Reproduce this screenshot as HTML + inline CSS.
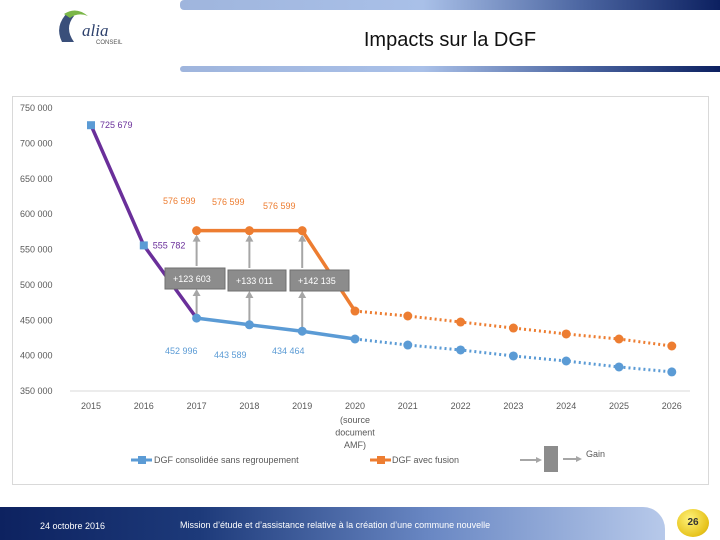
<!DOCTYPE html>
<html><head><meta charset="utf-8"><style>
body{margin:0;width:720px;height:540px;overflow:hidden;background:#fff;font-family:"Liberation Sans",sans-serif;position:relative}
.abs{position:absolute}
</style></head><body>
<div class="abs" style="left:180px;top:0;width:540px;height:10px;border-radius:4px 0 0 4px;background:linear-gradient(90deg,#9fb5dd,#a9c0e8 45%,#4a64a0 75%,#0c2060)"></div>
<div class="abs" style="left:180px;top:66px;width:540px;height:6px;border-radius:3px 0 0 3px;background:linear-gradient(90deg,#9fb5dd,#a9c0e8 45%,#4a64a0 75%,#0c2060)"></div>
<div class="abs" style="left:52px;top:6px;width:85px;height:42px">
<svg width="85" height="42"><path d="M16 6 Q2 20 10 36 L22 36 Q12 22 22 10 Z" fill="#3a4f7a"/><path d="M12 8 Q24 0 36 10 Q26 6 18 12Z" fill="#7ab648"/><text x="30" y="30" font-size="17" font-style="italic" fill="#2b3f6b" font-family="Liberation Serif,serif">alia</text><text x="44" y="38" font-size="6" fill="#555">CONSEIL</text></svg></div>
<div class="abs" style="left:300px;top:29px;width:300px;text-align:center;font-size:20px;color:#111">Impacts sur la DGF</div>
<div class="abs" style="left:12px;top:96px;width:697px;height:389px;border:1px solid #d9d9d9;box-sizing:border-box"></div>
<svg class="abs" style="left:0;top:0" width="720" height="540" id="chart"></svg>
<div class="abs" style="left:0;top:507px;width:665px;height:33px;border-radius:0 22px 0 0;background:linear-gradient(90deg,#0d2260,#1d3a7a 30%,#6a88c4 65%,#b7c9ea)"></div>
<div class="abs" style="left:40px;top:521px;font-size:9px;color:#fff">24 octobre 2016</div>
<div class="abs" style="left:180px;top:520px;font-size:9px;color:#fff">Mission d’étude et d’assistance relative à la création d’une commune nouvelle</div>
<div class="abs" style="left:677px;top:509px;width:32px;height:28px;border-radius:50%;background:radial-gradient(circle at 40% 35%,#fff27a,#e6c21a 70%,#b89410);text-align:center;line-height:28px;font-size:10px;font-weight:bold;color:#333">26</div>
<script>
const years=["2015","2016","2017","2018","2019","2020","2021","2022","2023","2024","2025","2026"];
const blueVals=[725679,555782,452996,443589,434464,423500,415000,408000,399500,392400,384000,377000];
const orangeVals=[null,null,576599,576599,576599,463000,456000,447500,439000,430600,423500,413600];
const yTicks=[350000,400000,450000,500000,550000,600000,650000,700000,750000];
const gains=["+123 603","+133 011","+142 135"];
const svg=document.getElementById('chart');const NS="http://www.w3.org/2000/svg";
const X=i=>91+i*52.8;const Y=v=>391-(v-350000)*283/400000;
function mk(t,a,p){const e=document.createElementNS(NS,t);for(const k in a)e.setAttribute(k,a[k]);(p||svg).appendChild(e);return e;}
function fmt(v){return String(Math.round(v)).replace(/\B(?=(\d{3})+$)/g,' ');}
yTicks.forEach(v=>{const t=mk('text',{x:20,y:Y(v)+3,'font-size':9,fill:'#595959'});t.textContent=fmt(v);
});
mk('line',{x1:70,x2:690,y1:Y(350000),y2:Y(350000),stroke:'#d9d9d9'});
years.forEach((y,i)=>{const t=mk('text',{x:X(i),y:409,'font-size':9,fill:'#595959','text-anchor':'middle'});t.textContent=y;
});
["(source","document","AMF)"].forEach((s,k)=>{const t=mk('text',{x:X(5),y:423+k*12.5,'font-size':9,fill:'#595959','text-anchor':'middle'});t.textContent=s;});
function seg(vals,a,b,col,dash,name){let d='';for(let i=a;i<=b;i++){if(vals[i]==null)continue;d+=(d?'L':'M')+X(i)+' '+Y(vals[i]);}
const p=mk('path',{d:d,fill:'none',stroke:col,'stroke-width':dash?3:3.5,'stroke-dasharray':dash?'2 3':''});
}
seg(blueVals,0,2,'#6a2f9a',false,'line-before-2017');
seg(blueVals,2,5,'#5b9bd5',false,'line-blue-solid');seg(blueVals,5,11,'#5b9bd5',true,'line-blue-projection');
seg(orangeVals,2,5,'#ed7d31',false,'line-orange-solid');seg(orangeVals,5,11,'#ed7d31',true,'line-orange-projection');
for(let k=0;k<3;k++){const i=2+k,x=X(i);const by=[278,280,280][k];
mk('line',{x1:x,x2:x,y1:Y(blueVals[i])-4,y2:by+14,stroke:'#a6a6a6','stroke-width':2});
mk('path',{d:`M${x-4} ${by+18}L${x} ${by+11}L${x+4} ${by+18}Z`,fill:'#a6a6a6'});
mk('line',{x1:x,x2:x,y1:by-12,y2:Y(orangeVals[i])+6,stroke:'#a6a6a6','stroke-width':2});
mk('path',{d:`M${x-4} ${Y(orangeVals[i])+11}L${x} ${Y(orangeVals[i])+4}L${x+4} ${Y(orangeVals[i])+11}Z`,fill:'#a6a6a6'});
const bx=[165,228,290][k];const r=mk('rect',{x:bx,y:by-10,width:[60,58,59][k],height:21,fill:'#8c8c8c',stroke:'#6f6f6f'});

const t=mk('text',{x:bx+8,y:by+4,'font-size':9,fill:'#fff'});t.textContent=gains[k];}
blueVals.forEach((v,i)=>{const m=i<2?mk('rect',{x:X(i)-4,y:Y(v)-4,width:8,height:8,fill:'#5b9bd5'}):mk('circle',{cx:X(i),cy:Y(v),r:4.5,fill:'#5b9bd5'});
});
orangeVals.forEach((v,i)=>{if(v==null)return;const m=mk('circle',{cx:X(i),cy:Y(v),r:4.5,fill:'#ed7d31'});
});
function lbl(x,y,s,c){const t=mk('text',{x:x,y:y,'font-size':9,fill:c});t.textContent=s;}
lbl(X(0)+9,Y(blueVals[0])+3,fmt(blueVals[0]),'#6a2f9a');lbl(X(1)+9,Y(blueVals[1])+3,fmt(blueVals[1]),'#6a2f9a');
lbl(165,354,fmt(blueVals[2]),'#5b9bd5');lbl(214,358,fmt(blueVals[3]),'#5b9bd5');lbl(272,354,fmt(blueVals[4]),'#5b9bd5');
lbl(163,204,fmt(orangeVals[2]),'#ed7d31');lbl(212,205,fmt(orangeVals[3]),'#ed7d31');lbl(263,209,fmt(orangeVals[4]),'#ed7d31');
mk('line',{x1:131,x2:152,y1:460,y2:460,stroke:'#5b9bd5','stroke-width':3});mk('rect',{x:138,y:456,width:8,height:8,fill:'#5b9bd5'});
lbl(154,463,'DGF consolidée sans regroupement','#595959');
mk('line',{x1:370,x2:391,y1:460,y2:460,stroke:'#ed7d31','stroke-width':3});mk('rect',{x:377,y:456,width:8,height:8,fill:'#ed7d31'});
lbl(392,463,'DGF avec fusion','#595959');
mk('line',{x1:520,x2:538,y1:460,y2:460,stroke:'#a6a6a6','stroke-width':2});mk('path',{d:'M536 457L542 460L536 463Z',fill:'#a6a6a6'});
mk('rect',{x:544,y:446,width:14,height:26,fill:'#8c8c8c'});
mk('line',{x1:563,x2:578,y1:459,y2:459,stroke:'#a6a6a6','stroke-width':2});mk('path',{d:'M576 456L582 459L576 462Z',fill:'#a6a6a6'});
lbl(586,457,'Gain','#595959');
</script>
</body></html>
